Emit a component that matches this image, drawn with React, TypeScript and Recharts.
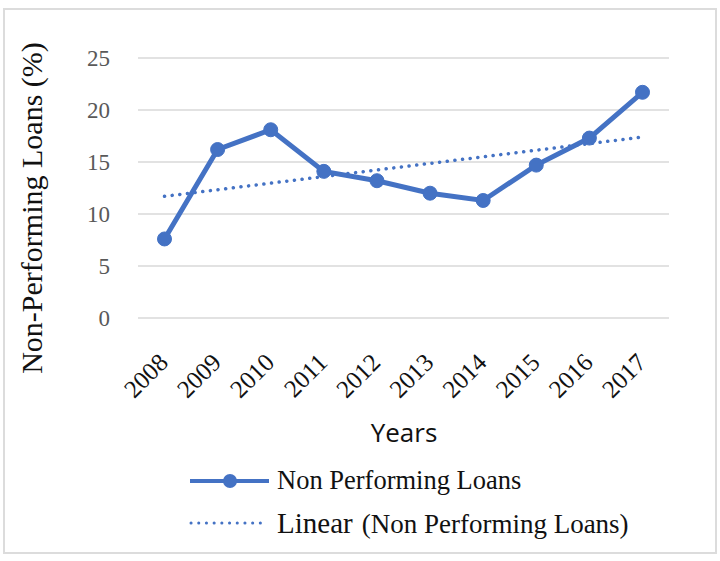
import { CartesianGrid, Line, LineChart, ReferenceLine, XAxis, YAxis } from "recharts";

const years = ["2008", "2009", "2010", "2011", "2012", "2013", "2014", "2015", "2016", "2017"];
const nplValues = [7.6, 16.2, 18.1, 14.1, 13.2, 12.0, 11.3, 14.7, 17.3, 21.7];
const yTicks = [0, 5, 10, 15, 20, 25];
// trend line ends
const trendStart = 11.7;
const trendEnd = 17.4;

const data = years.map((year, i) => ({ year, npl: nplValues[i] }));

const BLUE = "#4472C4";
const SERIF = "'Liberation Serif', 'Times New Roman', serif";

function YearTick({ x, y, payload }: any) {
  const ax = x + 5;
  const ay = y + 46;
  return (
    <text
      x={ax}
      y={ay}
      textAnchor="end"
      transform={`rotate(-45, ${ax}, ${ay})`}
      fill="#111"
      fontSize={25}
      fontFamily={SERIF}
    >
      {payload.value}
    </text>
  );
}

// Excel-style legend and axis titles drawn in an overlay svg
function Overlay() {
  return (
    <svg
      width={720}
      height={561}
      style={{ position: "absolute", left: 0, top: 0, pointerEvents: "none" }}
    >
      <text
        x={42}
        y={208}
        textAnchor="middle"
        transform="rotate(-90, 42, 208)"
        fontSize={30}
        fontFamily={SERIF}
        fill="#111"
      >
        Non-Performing Loans (%)
      </text>
      <text x={404} y={442} textAnchor="middle" fontSize={26} fontFamily="'Open Sans', sans-serif" fill="#111">
        Years
      </text>

      <line x1={190} y1={481} x2={269} y2={481} stroke={BLUE} strokeWidth={4} />
      <circle cx={230} cy={481} r={7} fill={BLUE} />
      <text x={277} y={489} fontSize={26.5} fontFamily={SERIF} fill="#111">
        Non Performing Loans
      </text>

      <line
        x1={191}
        y1={523}
        x2={266}
        y2={523}
        stroke={BLUE}
        strokeWidth={3}
        strokeDasharray="0.1 7.6"
        strokeLinecap="round"
      />
      <text x={277} y={533} fontFamily={SERIF} fill="#111">
        <tspan fontSize={29}>Linear</tspan>
        <tspan fontSize={27} dx={9}>(Non Performing Loans)</tspan>
      </text>
    </svg>
  );
}

export default function App() {
  return (
    <div style={{ position: "absolute", left: 0, top: 0, width: 720, height: 561, background: "#fff" }}>
      <div
        style={{
          position: "absolute",
          left: 3,
          top: 8,
          width: 710,
          height: 542,
          border: "2px solid #dcdcdc",
        }}
      />
      <LineChart
        width={720}
        height={561}
        data={data}
        margin={{ top: 58, right: 51, bottom: 183, left: 78 }}
        style={{ position: "absolute", left: 0, top: 0 }}
      >
        <CartesianGrid vertical={false} stroke="#d9d9d9" strokeWidth={1.5} />
        <XAxis
          dataKey="year"
          height={60}
          padding={{ left: 26.5, right: 26.5 }}
          axisLine={false}
          tickLine={false}
          tickSize={0}
          tickMargin={0}
          interval={0}
          tick={<YearTick />}
        />
        <YAxis
          width={60}
          domain={[0, 25]}
          ticks={yTicks}
          axisLine={false}
          tickLine={false}
          tickSize={0}
          tickMargin={28}
          tick={{ fill: "#595959", fontSize: 23, fontFamily: SERIF }}
        />
        <ReferenceLine
          segment={[
            { x: years[0], y: trendStart },
            { x: years[years.length - 1], y: trendEnd },
          ]}
          stroke={BLUE}
          strokeWidth={3.5}
          strokeDasharray="0.1 7.6"
          strokeLinecap="round"
        />
        <Line
          type="linear"
          dataKey="npl"
          stroke={BLUE}
          strokeWidth={5}
          dot={{ r: 7, fill: BLUE, stroke: BLUE, strokeWidth: 1 }}
          isAnimationActive={false}
        />
      </LineChart>
      <Overlay />
    </div>
  );
}
